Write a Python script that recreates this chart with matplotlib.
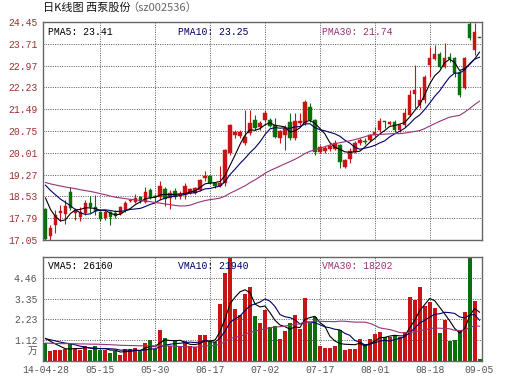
import numpy as np
import pandas as pd
import matplotlib
matplotlib.use("Agg")
import matplotlib.pyplot as plt

# ---------------- data ----------------
tick_idx = [0, 11, 22, 33, 44, 55, 66, 77, 87]
tick_labels = ["14-04-28", "05-15", "05-30", "06-17", "07-02", "07-17", "08-01", "08-18", "09-05"]

opens = [18.10, 17.17, 17.56, 17.97, 17.93, 18.68, 17.97, 17.83, 17.97, 18.31,
         18.17, 18.00, 17.80, 18.00, 17.97, 17.93, 18.07, 18.36, 18.34, 18.50,
         18.33, 18.75, 18.55, 18.50, 18.78, 18.48, 18.72, 18.58, 18.58, 18.65,
         18.65, 18.75, 19.15, 19.22, 18.99, 18.90, 18.98, 20.00, 20.62, 20.58,
         20.34, 20.68, 21.12, 20.89, 21.12, 21.12, 20.95, 20.51, 20.61, 21.05,
         20.51, 21.02, 21.02, 21.56, 21.12, 20.04, 20.07, 20.14, 20.14, 20.27,
         19.53, 19.80, 20.04, 20.34, 20.42, 20.44, 20.62, 20.78, 21.08, 21.00,
         21.06, 20.78, 20.95, 21.29, 22.00, 21.63, 21.80, 22.99, 23.19, 23.36,
         22.92, 23.26, 23.23, 22.75, 22.21, 24.38, 23.50, 23.91]
highs = [18.14, 17.55, 18.07, 18.25, 18.40, 18.85, 18.14, 18.17, 18.40, 18.55,
         18.58, 18.05, 18.07, 18.05, 18.07, 18.20, 18.36, 18.45, 18.60, 18.55,
         18.85, 18.80, 18.60, 19.05, 18.85, 18.75, 18.80, 18.70, 18.98, 18.82,
         18.85, 19.12, 19.40, 19.25, 19.02, 19.55, 20.15, 21.00, 20.80, 20.78,
         21.46, 21.46, 21.29, 21.10, 21.46, 21.19, 21.19, 20.78, 20.95, 21.36,
         21.36, 21.36, 21.80, 21.70, 21.15, 20.27, 20.24, 20.30, 20.44, 20.30,
         19.80, 20.17, 20.40, 20.51, 20.50, 20.65, 20.89, 21.19, 21.10, 21.10,
         21.12, 21.00, 21.53, 22.14, 22.99, 22.24, 22.65, 23.60, 23.67, 23.43,
         23.74, 23.40, 23.26, 22.82, 23.26, 24.45, 24.42, 23.91]
lows = [17.05, 17.05, 17.29, 17.70, 17.60, 18.07, 17.72, 17.70, 17.90, 17.97,
        17.90, 17.70, 17.73, 17.55, 17.80, 17.90, 18.00, 18.33, 18.30, 18.30,
        18.30, 18.45, 18.35, 18.41, 18.20, 18.10, 18.45, 18.45, 18.45, 18.60,
        18.60, 18.70, 19.05, 18.95, 18.80, 18.85, 18.88, 19.95, 20.50, 20.50,
        20.27, 20.60, 20.78, 20.80, 21.05, 20.89, 20.51, 20.34, 20.10, 20.44,
        20.44, 20.95, 20.95, 21.05, 19.94, 20.00, 20.00, 20.07, 20.10, 19.50,
        19.50, 19.66, 20.00, 20.27, 20.30, 20.40, 20.55, 20.72, 20.85, 20.95,
        20.72, 20.70, 20.89, 21.25, 21.53, 21.53, 21.70, 22.58, 23.16, 22.89,
        22.89, 23.09, 22.58, 21.90, 22.18, 23.84, 23.33, 23.91]
closes = [17.08, 17.46, 17.90, 18.04, 18.20, 18.14, 18.07, 18.00, 18.31, 18.17,
          18.04, 17.76, 18.00, 17.83, 17.87, 18.17, 18.31, 18.41, 18.48, 18.36,
          18.68, 18.48, 18.50, 18.88, 18.45, 18.65, 18.51, 18.60, 18.88, 18.78,
          18.82, 19.09, 19.22, 18.99, 18.89, 19.00, 20.10, 20.95, 20.72, 20.72,
          20.55, 21.02, 20.85, 21.02, 21.36, 20.92, 20.55, 20.75, 20.85, 20.51,
          21.09, 21.09, 21.73, 21.12, 20.04, 20.21, 20.17, 20.24, 20.34, 19.70,
          19.77, 20.07, 20.34, 20.44, 20.38, 20.61, 20.72, 21.09, 21.04, 21.06,
          20.78, 20.95, 21.36, 21.97, 22.14, 21.80, 22.58, 23.23, 23.36, 22.92,
          23.23, 23.18, 22.72, 21.97, 23.23, 23.91, 24.11, 23.91]
# volume in 10k units (万)
volumes = [0.96, 0.52, 0.57, 0.57, 0.66, 0.89, 0.66, 0.57, 0.83, 0.57,
           0.78, 0.57, 0.57, 0.44, 0.53, 0.30, 0.66, 0.62, 0.71, 0.52,
           0.98, 1.10, 0.64, 1.68, 1.25, 0.82, 1.05, 0.75, 1.07, 0.78,
           0.75, 1.37, 1.42, 1.07, 1.02, 3.06, 4.71, 5.52, 2.79, 2.47,
           3.60, 3.95, 2.43, 2.04, 2.72, 1.83, 1.89, 1.18, 1.59, 2.03,
           2.45, 1.71, 3.39, 2.06, 2.38, 0.79, 0.71, 0.71, 0.79, 1.68,
           0.60, 0.65, 0.65, 1.18, 0.92, 1.16, 1.45, 1.53, 1.27, 1.27,
           1.36, 1.31, 1.53, 3.42, 3.25, 3.95, 2.95, 3.17, 2.86, 1.50,
           2.19, 1.09, 1.13, 1.59, 2.60, 5.575, 3.20, 0.12]
# estimated history before the window (needed for moving averages)
pre_closes = [18.9, 19.0, 19.1, 19.2, 19.0, 18.9, 19.1, 19.2, 19.0, 19.1,
              19.0, 19.1, 19.2, 19.0, 18.9, 19.0, 19.1, 19.0, 19.1, 19.1,
              19.2, 19.4, 19.5, 19.3, 19.3, 19.4, 19.1, 18.8, 18.0]
pre_volumes = [0.8, 0.9, 0.8, 0.7, 0.9, 0.8, 0.9, 0.8, 0.9, 0.8,
               0.8, 0.9, 0.8, 0.9, 0.8, 0.9, 0.8, 0.9, 0.8, 0.9,
               1.1, 1.2, 1.2, 1.2, 1.2, 1.3, 1.3, 1.2, 1.3]

price_ticks = [17.05, 17.79, 18.53, 19.27, 20.01, 20.75, 21.49, 22.23, 22.97, 23.71, 24.45]
vol_ticks = [1.115, 2.23, 3.345, 4.46]
vol_tick_labels = ["1.12", "2.23", "3.35", "4.46"]
vol_max = 5.575

legend_price = ["PMA5: 23.41", "PMA10: 23.25", "PMA30: 21.74"]
legend_vol = ["VMA5: 26160", "VMA10: 21940", "VMA30: 18202"]

# ---------------- style ----------------
RED = "#C81414"
GREEN = "#0B6E0B"
MA_COLORS = ["#000000", "#000066", "#993377"]
GRID = "#555555"
DOT = (0, (1, 1.4))
MONO = "Liberation Mono"

W, H = 530, 391
fig = plt.figure(figsize=(W / 100, H / 100), dpi=100)
fig.patch.set_facecolor("white")

def frac(x0, y0, x1, y1):
    return [x0 / W, 1 - y1 / H, (x1 - x0) / W, (y1 - y0) / H]

ax = fig.add_axes(frac(43, 22, 482, 240))
axv = fig.add_axes(frac(43, 257, 482, 361))

n = len(closes)
x = np.arange(n)
o = np.array(opens); c = np.array(closes); hi = np.array(highs); lo = np.array(lows)
up = c > o
cols = [RED if u else GREEN for u in up]

# moving averages
all_c = pd.Series(pre_closes + closes)
all_v = pd.Series(pre_volumes + volumes)
npre = len(pre_closes)
ma = {p: all_c.rolling(p).mean().values[npre:] for p in (5, 10, 30)}
vma = {p: all_v.rolling(p).mean().values[npre:] for p in (5, 10, 30)}

for a in (ax, axv):
    a.set_xlim(-0.5, n - 0.5)
    for s in a.spines.values():
        s.set_color("#666666")
        s.set_linewidth(1.0)
    for t in tick_idx[1:-1]:
        a.axvline(t, color=GRID, lw=0.7, ls=DOT, zorder=0)
    a.set_facecolor("white")

# price panel
ax.set_ylim(price_ticks[0], price_ticks[-1])
for yv in price_ticks[1:-1]:
    ax.axhline(yv, color=GRID, lw=0.7, ls=DOT, zorder=0)
ax.vlines(x, lo, hi, colors=cols, lw=0.8, zorder=2)
body_bottom = np.minimum(o, c)
body_h = np.maximum(np.abs(c - o), 0.02)
ax.bar(x, body_h, bottom=body_bottom, width=0.7, color=cols, edgecolor=cols, lw=0.3, zorder=3)
for p, col in zip((5, 10, 30), MA_COLORS):
    ax.plot(x, ma[p], color=col, lw=0.8, zorder=4)
ax.set_yticks(price_ticks)
ax.set_yticklabels([f"{v:.2f}" for v in price_ticks], fontfamily=MONO, fontsize=7, color="#993333")
ax.set_xticks([])
ax.tick_params(axis="y", length=0, pad=4)

# volume panel
axv.set_ylim(0, vol_max)
for yv in vol_ticks:
    axv.axhline(yv, color=GRID, lw=0.7, ls=DOT, zorder=0)
axv.bar(x, volumes, width=0.8, color=cols, lw=0, zorder=2)
for p, col in zip((5, 10, 30), MA_COLORS):
    axv.plot(x, vma[p], color=col, lw=0.8, zorder=4)
axv.set_yticks(vol_ticks)
axv.set_yticklabels(vol_tick_labels, fontfamily=MONO, fontsize=7, color="#555555")
axv.tick_params(axis="y", length=0, pad=4)
axv.text(-0.012, 0.56 / vol_max, "万", transform=axv.transAxes, ha="right", va="center",
         fontsize=7, color="#555555", family=["Noto Sans CJK SC", "DejaVu Sans"])
axv.set_xticks(tick_idx)
axv.set_xticklabels(tick_labels, fontfamily=MONO, fontsize=7, color="#555555")
axv.tick_params(axis="x", length=0, pad=3)

# legends
xs = [48, 178, 322]
for txt, col, xp in zip(legend_price, MA_COLORS, xs):
    fig.text(xp / W, 1 - 32 / H, txt, ha="left", va="center", fontfamily=MONO, fontsize=7, color=col)
for txt, col, xp in zip(legend_vol, MA_COLORS, xs):
    fig.text(xp / W, 1 - 266 / H, txt, ha="left", va="center", fontfamily=MONO, fontsize=7, color=col)

# title
fig.text(43 / W, 1 - 8 / H, "日K线图 西泵股份", ha="left", va="center", fontsize=8,
         color="#111111", family=["Noto Sans CJK SC", "DejaVu Sans"])
fig.text(127 / W, 1 - 8 / H, "（sz002536）", ha="left", va="center", fontsize=8,
         color="#666666", family=["Noto Sans CJK SC", "DejaVu Sans"])

fig.savefig("out.png", dpi=100)
